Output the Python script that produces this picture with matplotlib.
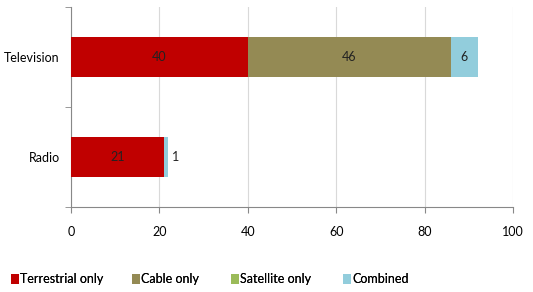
import matplotlib
matplotlib.use('Agg')
import matplotlib.pyplot as plt
import numpy as np

plt.rcParams['font.family'] = ['Lato', 'DejaVu Sans']

categories = ['Radio', 'Television']
series = ['Terrestrial only', 'Cable only', 'Satellite only', 'Combined']
terrestrial = [21, 40]
cable = [0, 46]
satellite = [0, 0]
combined = [1, 6]
colors = ['#C00000', '#948A54', '#9BBB59', '#92CDDC']

values = [terrestrial, cable, satellite, combined]

fig = plt.figure(figsize=(5.33, 2.92), dpi=100)
ax = fig.add_axes([71 / 533, 85 / 292, 442 / 533, 200 / 292])
ax.set_axisbelow(True)

y = np.arange(len(categories))
left = np.zeros(len(categories))
handles = []
for name, vals, c in zip(series, values, colors):
    vals = np.array(vals, dtype=float)
    h = ax.barh(y, vals, left=left, height=0.4, color=c, label=name, zorder=3)
    handles.append(h)
    for i, v in enumerate(vals):
        if v <= 0:
            continue
        if v < 3:
            ax.text(left[i] + v + 0.8, y[i], f'{int(v)}', ha='left', va='center',
                    fontsize=9, color='#222222', zorder=4)
        else:
            ax.text(left[i] + v / 2, y[i], f'{int(v)}', ha='center', va='center',
                    fontsize=9, color='#222222', zorder=4)
    left += vals

ax.set_xlim(0, 100)
ax.set_ylim(-0.5, 1.5)
ax.set_xticks(range(0, 101, 20))
ax.set_yticks(y)
ax.set_yticklabels(categories)
ax.set_yticks([-0.5, 0.5, 1.5], minor=True)
ax.tick_params(axis='y', which='major', length=0, pad=8, labelsize=9)
ax.tick_params(axis='y', which='minor', length=4, color='#888888')
ax.tick_params(axis='x', length=4, color='#888888', pad=10, labelsize=9)
ax.xaxis.grid(True, color='#D9D9D9', lw=0.8)
for s in ['top', 'right']:
    ax.spines[s].set_visible(False)
for s in ['left', 'bottom']:
    ax.spines[s].set_color('#888888')

# legend entries placed like the Excel legend
leg_x = [11, 132, 231, 343]
for h, name, lx in zip(handles, series, leg_x):
    lg = fig.legend(handles=[h], labels=[name], loc='lower left',
                    bbox_to_anchor=(lx / 533, 7 / 292), frameon=False,
                    fontsize=9, handlelength=0.6, handleheight=0.9,
                    handletextpad=0.15, borderpad=0, borderaxespad=0)
    fig.add_artist(lg)

fig.savefig('out.png', dpi=100)
